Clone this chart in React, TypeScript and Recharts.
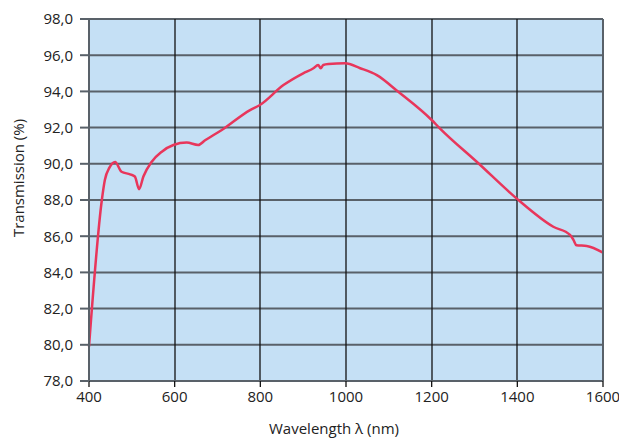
import React from "react";
import {
  LineChart,
  Line,
  XAxis,
  YAxis,
  CartesianGrid,
  Label,
} from "recharts";

// wavelength (nm) and transmission (%)
const wavelengths = [
  400, 430, 437, 448, 461, 476, 496, 507, 517, 527, 546, 570, 597, 628, 655, 671,
  710, 776, 799, 854, 900, 924, 935, 941, 947, 959, 998, 1033, 1072, 1122, 1200,
  1219, 1309, 1398, 1484, 1523, 1531, 1538, 1562, 1600,
];
const transmission = [
  79.9, 88.0, 89.1, 89.8, 90.1, 89.56, 89.42, 89.3, 88.6, 89.3, 90.1, 90.67, 91.04,
  91.17, 91.04, 91.3, 91.87, 92.97, 93.25, 94.35, 95.0, 95.28, 95.46, 95.28, 95.46,
  95.51, 95.55, 95.28, 94.9, 93.98, 92.42, 91.96, 90.03, 88.09, 86.52, 86.07, 85.8,
  85.5, 85.46, 85.09,
];

const xTicks = [400, 600, 800, 1000, 1200, 1400, 1600];
const yTicks = [78, 80, 82, 84, 86, 88, 90, 92, 94, 96, 98];

const data = wavelengths.map((nm, i) => ({ nm, t: transmission[i] }));

const FONT = "'Open Sans', 'Noto Sans', sans-serif";
const tickStyle = { fontSize: 15, fill: "#222", fontFamily: FONT };
const fmt = (v: number) => v.toFixed(1).replace(".", ",");

export default function App(): React.ReactElement {
  return (
    <div style={{ position: "absolute", left: 0, top: 0 }}>
      <LineChart
        width={619}
        height={439}
        data={data}
        margin={{ top: 19, right: 0, bottom: 0, left: 0 }}
      >
        <CartesianGrid
          yAxisId="left"
          fill="#c5e0f5"
          fillOpacity={1}
          vertical={false}
          stroke="#596169"
          strokeWidth={2}
        />
        <CartesianGrid
          yAxisId="left"
          horizontal={false}
          stroke="#111"
          strokeWidth={1.3}
          verticalPoints={[175, 260, 346, 432, 517]}
        />
        <XAxis
          dataKey="nm"
          type="number"
          domain={[400, 1600]}
          ticks={xTicks}
          height={58}
          tickSize={6}
          tickMargin={4}
          tick={tickStyle}
          stroke="#596169"
          strokeWidth={2}
          tickLine={{ stroke: "#111", strokeWidth: 1.3 }}
          interval={0}
        >
          <Label
            content={() => (
              <text
                x={334}
                y={428}
                textAnchor="middle"
                dominantBaseline="central"
                style={{ fontSize: 15, fill: "#222", fontFamily: FONT }}
              >
                Wavelength λ (nm)
              </text>
            )}
          />
        </XAxis>
        <YAxis
          yAxisId="left"
          domain={[78, 98]}
          ticks={yTicks}
          width={89}
          tickSize={9}
          tickMargin={7}
          tick={tickStyle}
          tickFormatter={fmt}
          stroke="#596169"
          strokeWidth={2}
          interval={0}
        >
          <Label
            content={() => (
              <text
                x={18}
                y={178}
                transform="rotate(-90 18 178)"
                textAnchor="middle"
                dominantBaseline="central"
                style={{ fontSize: 15, fill: "#222", fontFamily: FONT }}
              >
                Transmission (%)
              </text>
            )}
          />
        </YAxis>
        <YAxis
          yAxisId="right"
          orientation="right"
          domain={[78, 98]}
          ticks={yTicks}
          width={16}
          tickSize={8}
          tick={false}
          stroke="#596169"
          strokeWidth={2}
          interval={0}
        />
        <Line
          yAxisId="left"
          type="monotone"
          dataKey="t"
          stroke="#e8365b"
          strokeWidth={2.5}
          dot={false}
          isAnimationActive={false}
        />
      </LineChart>
    </div>
  );
}
